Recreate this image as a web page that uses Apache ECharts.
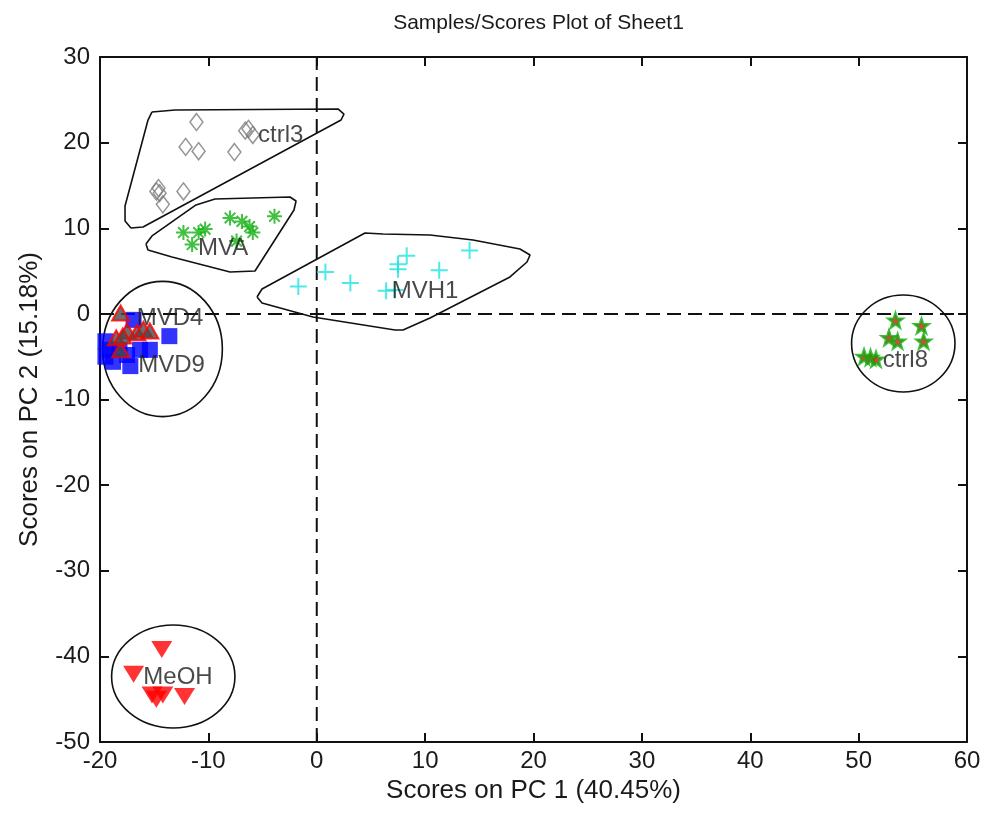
<!DOCTYPE html>
<html>
<head>
<meta charset="utf-8">
<title>Samples/Scores Plot of Sheet1</title>
<script src="https://cdn.jsdelivr.net/npm/echarts@6/dist/echarts.min.js"></script>
<style>
  html, body { margin: 0; padding: 0; background: #fff; }
  #chart { width: 984px; height: 814px; }
</style>
</head>
<body>
<div id="chart"></div>
<script>
// PCA scores by sample group (PC 1 on x, PC 2 on y)
const ctrl3X = [-11.1, -12.1, -10.9, -7.6, -6.3, -5.9, -6.6, -14.6, -14.5, -14.8, -12.3, -14.2];
const ctrl3Y = [22.4, 19.5, 19.0, 18.9, 21.6, 20.9, 21.4, 14.7, 14.1, 14.3, 14.3, 12.8];

const mvaX = [-12.3, -11.5, -10.9, -10.3, -8.0, -6.9, -6.2, -5.9, -7.4, -3.9];
const mvaY = [9.5, 8.1, 9.5, 9.9, 11.2, 10.8, 10.2, 9.5, 8.5, 11.4];

const mvh1X = [-1.7, 0.8, 3.1, 6.4, 7.2, 7.5, 7.5, 8.3, 11.3, 14.1];
const mvh1Y = [3.2, 4.9, 3.6, 2.7, 2.8, 5.2, 5.8, 6.8, 5.1, 7.4];

const mvd9X = [-19.5, -19.1, -17.2, -13.6, -15.4, -16.9, -19.5, -18.2, -16.3, -18.8, -17.5];
const mvd9Y = [-3.2, -4.2, -6.1, -2.6, -4.2, -0.7, -5.0, -4.2, -4.2, -5.6, -4.8];

const mvd4X = [-18.1, -18.1, -17.5, -16.6, -16.0, -15.4, -18.5, -17.9];
const mvd4Y = [0.1, -4.2, -2.0, -2.2, -1.8, -2.0, -2.8, -2.6];

const ctrl8X = [53.4, 55.8, 52.8, 53.6, 56.0, 50.5, 51.1, 51.6];
const ctrl8Y = [-0.75, -1.4, -2.8, -3.2, -3.2, -5.0, -5.1, -5.3];

const meohX = [-14.3, -16.9, -15.2, -14.8, -14.2, -12.2];
const meohY = [-39.2, -42.1, -44.5, -45.0, -44.5, -44.7];

// Group labels: text and the score position where each one starts
const groupNames = ['ctrl3', 'MVA', 'MVH1', 'MVD4', 'MVD9', 'ctrl8', 'MeOH'];
const groupLabelX = [-5.42, -10.96, 6.92, -16.61, -16.47, 52.22, -16.0];
const groupLabelY = [20.9, 7.7, 2.6, -0.5, -6.0, -5.4, -42.5];

// Hand-drawn outlines around the elongated clusters (score coordinates)
const hullCtrl3 = [[-15.20, 23.58], [-13.08, 23.81], [1.96, 23.93], [2.51, 23.34], [2.24, 22.64],
  [1.22, 21.94], [-16.03, 10.15], [-17.14, 10.03], [-17.69, 10.85], [-17.69, 12.60],
  [-15.57, 22.64], [-15.20, 23.58]];
const hullMva = [[-15.76, 8.16], [-15.20, 9.10], [-11.14, 12.72], [-9.39, 13.42], [-2.47, 13.65],
  [-1.91, 13.18], [-2.10, 12.13], [-5.70, 5.01], [-8.00, 4.89], [-13.36, 6.64],
  [-15.57, 7.46], [-15.76, 8.16]];
const hullMvh1 = [[-5.51, 1.97], [-5.05, 2.91], [4.45, 9.45], [6.11, 9.33], [10.45, 9.21],
  [14.42, 8.63], [18.75, 7.58], [19.68, 6.88], [19.40, 6.06], [17.83, 4.31],
  [10.45, -0.48], [7.96, -1.88], [7.22, -1.88], [-0.35, -0.36], [-5.05, 1.27], [-5.51, 1.97]];

// Elliptical outlines: centre x, centre y, x radius, y radius (score units)
const ellipseCX = [-14.23, -13.24, 54.12];
const ellipseCY = [-4.10, -42.35, -3.46];
const ellipseRX = [5.52, 5.69, 4.77];
const ellipseRY = [7.90, 6.01, 5.66];

// Axis ticks
const xTicks = { min: -20, max: 60, step: 10 };
const yTicks = { min: -50, max: 30, step: 10 };

const FONT = '"Liberation Sans", Arial, Helvetica, sans-serif';
const TXT = '#1a1a1a';

const GRID = { left: 100, right: 17, top: 57, bottom: 72 };
const CHART_W = 984;

const zip = (xs, ys) => xs.map((x, i) => [x, ys[i]]);

const asterisk = 'path://M0,-10L0,10M-10,0L10,0M-7.1,-7.1L7.1,7.1M-7.1,7.1L7.1,-7.1';
const plus = 'path://M0,-10L0,10M-10,0L10,0';
const star = 'path://M0,-10L2.35,-3.24L9.51,-3.09L3.8,1.24L5.88,8.09L0,4L-5.88,8.09L-3.8,1.24L-9.51,-3.09L-2.35,-3.24Z';

const clear = 'rgba(0,0,0,0)';

function frameAxis(pos, extent, labels) {
  return {
    type: 'value',
    min: extent.min, max: extent.max, interval: extent.step,
    position: pos,
    axisLine: { show: true, onZero: false, lineStyle: { color: '#111', width: 2 } },
    axisTick: { show: true, inside: true, length: 9, lineStyle: { color: '#111', width: 2 } },
    splitLine: { show: false },
    axisLabel: labels
      ? { show: true, fontFamily: FONT, fontSize: 24, color: TXT, margin: (pos === 'bottom' ? 7 : 10) }
      : { show: false }
  };
}

const xBottom = Object.assign(frameAxis('bottom', xTicks, true), {
  name: 'Scores on PC 1 (40.45%)', nameLocation: 'middle', nameGap: 31,
  nameTextStyle: { fontFamily: FONT, fontSize: 26, color: TXT }
});
const xTop = frameAxis('top', xTicks, false);
const yLeft = Object.assign(frameAxis('left', yTicks, true), {
  name: 'Scores on PC 2 (15.18%)', nameLocation: 'middle', nameGap: 57,
  nameTextStyle: { fontFamily: FONT, fontSize: 26, color: TXT }
});
const yRight = frameAxis('right', yTicks, false);

const ellipseData = ellipseCX.map((cx, i) => [cx, ellipseCY[i], ellipseRX[i], ellipseRY[i]]);

function outline(data) {
  return {
    type: 'line', data: data, showSymbol: false, symbol: 'none', silent: true, z: 1,
    lineStyle: { color: '#111', width: 1.6 }
  };
}

const option = {
  animation: false,
  backgroundColor: '#fff',
  title: {
    text: 'Samples/Scores Plot of Sheet1',
    // centred over the plotting area
    left: GRID.left + (CHART_W - GRID.left - GRID.right) / 2,
    textAlign: 'center',
    top: 8,
    textStyle: { fontFamily: FONT, fontSize: 21, fontWeight: 'normal', color: TXT }
  },
  grid: GRID,
  xAxis: [xBottom, xTop],
  yAxis: [yLeft, yRight],
  series: [
    // reference lines through the origin
    {
      type: 'line', data: [[0, yTicks.min], [0, yTicks.max]], showSymbol: false, symbol: 'none', z: 1,
      lineStyle: { color: '#111', width: 2, type: [14, 7] }
    },
    {
      type: 'line', data: [[xTicks.min, 0], [xTicks.max, 0]], showSymbol: false, symbol: 'none', z: 1,
      lineStyle: { color: '#111', width: 2, type: [14, 7] }
    },
    outline(hullCtrl3),
    outline(hullMva),
    outline(hullMvh1),
    {
      type: 'custom', data: ellipseData, z: 1, silent: true,
      renderItem: function (params, api) {
        const c = api.coord([api.value(0), api.value(1)]);
        const s = api.size([api.value(2), api.value(3)]);
        return {
          type: 'ellipse',
          shape: { cx: c[0], cy: c[1], rx: s[0], ry: s[1] },
          style: { fill: null, stroke: '#111', lineWidth: 1.6 }
        };
      }
    },
    {
      name: 'ctrl3', type: 'scatter', data: zip(ctrl3X, ctrl3Y), z: 3,
      symbol: 'diamond', symbolSize: [13, 17],
      itemStyle: { color: clear, borderColor: '#7a7a7a', borderWidth: 1.5 }
    },
    {
      name: 'MVA', type: 'scatter', data: zip(mvaX, mvaY), z: 3,
      symbol: asterisk, symbolSize: 15,
      itemStyle: { color: clear, borderColor: '#12b012', borderWidth: 2 }
    },
    {
      name: 'MVH1', type: 'scatter', data: zip(mvh1X, mvh1Y), z: 3,
      symbol: plus, symbolSize: 17,
      itemStyle: { color: clear, borderColor: '#22e2e2', borderWidth: 2 }
    },
    {
      name: 'MVD9', type: 'scatter', data: zip(mvd9X, mvd9Y), z: 3,
      symbol: 'rect', symbolSize: 16,
      itemStyle: { color: '#0000ff' }
    },
    {
      name: 'MVD4', type: 'scatter', data: zip(mvd4X, mvd4Y), z: 4,
      symbol: 'triangle', symbolSize: [17, 15],
      itemStyle: { color: '#4a4a4a', borderColor: '#ff0000', borderWidth: 2 }
    },
    {
      name: 'ctrl8', type: 'scatter', data: zip(ctrl8X, ctrl8Y), z: 3,
      symbol: star, symbolSize: 14,
      itemStyle: { color: '#e01010', borderColor: '#10b010', borderWidth: 2.5 }
    },
    {
      name: 'MeOH', type: 'scatter', data: zip(meohX, meohY), z: 3,
      symbol: 'triangle', symbolRotate: 180, symbolSize: [21, 17],
      itemStyle: { color: '#ff0000' }
    },
    {
      name: 'labels', type: 'scatter', z: 5, silent: true,
      data: groupNames.map((n, i) => ({ name: n, value: [groupLabelX[i], groupLabelY[i]] })),
      symbolSize: 0,
      itemStyle: { color: clear },
      label: {
        show: true, position: [0, 0], align: 'left', verticalAlign: 'middle',
        formatter: p => p.name,
        fontFamily: FONT, fontSize: 24, color: TXT
      }
    }
  ]
};

const chart = echarts.init(document.getElementById('chart'), null, { renderer: 'canvas' });
chart.setOption(option);
</script>
</body>
</html>
